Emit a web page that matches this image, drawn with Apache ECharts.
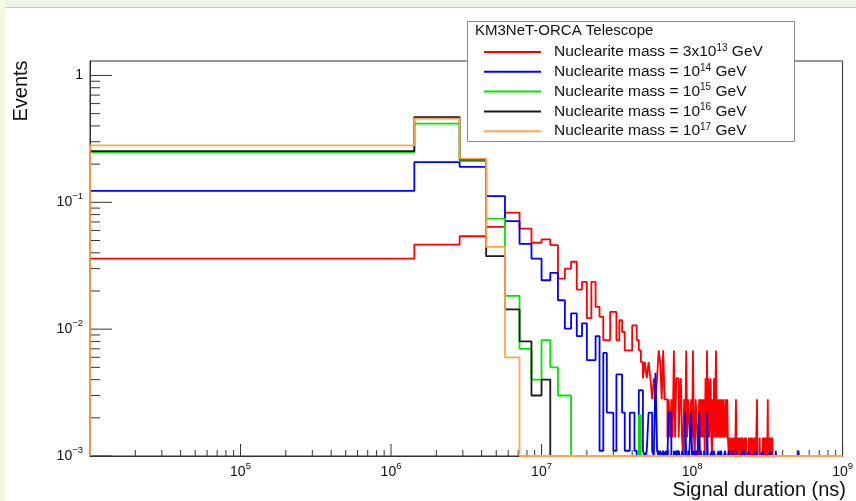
<!DOCTYPE html>
<html>
<head>
<meta charset="utf-8">
<title>KM3NeT-ORCA nuclearite signal duration</title>
<script src="https://cdn.jsdelivr.net/npm/echarts@6/dist/echarts.min.js"></script>
<style>
  html, body { margin: 0; padding: 0; background: #fff; }
  #chart { width: 856px; height: 501px; }
</style>
</head>
<body>
<div id="chart"></div>
<script>
// histogram binning: 700 equal bins from 0 to 1e9 ns
var BIN_WIDTH = 1e9 / 700;
var X_MIN = 1e4, X_MAX = 1e9;
var Y_MIN = 1e-3, Y_MAX = 1.3;

var seriesNames = [
  'Nuclearite mass = 3x10^13 GeV',
  'Nuclearite mass = 10^14 GeV',
  'Nuclearite mass = 10^15 GeV',
  'Nuclearite mass = 10^16 GeV',
  'Nuclearite mass = 10^17 GeV'
];
var xDecades = [5, 6, 7, 8, 9];     // labelled x ticks, 10^n
var yDecades = [-3, -2, -1, 0];     // labelled y ticks, 10^n

// events per bin, bin 0 first. "Tail" lists are [bin, events] for the sparse part
var red = [
  0.036, 0.0464, 0.054, 0.064, 0.083, 0.062, 0.048, 0.051, 0.046, 0.025,
  0.030, 0.034, 0.0205, 0.0236, 0.0122, 0.0236, 0.0150, 0.0125, 0.0082, 0.0082,
  0.0137, 0.0137, 0.0082, 0.0118, 0.0095, 0.0068, 0.0068, 0.0068, 0.0107, 0.0107,
  0.0082, 0.0068, 0.0055, 0.0041, 0.0055, 0.0041, 0.0055, 0.0041, 0.0028, 0.0041,
  0.0028, 0.0041, 0.0068, 0.0055, 0.0028, 0.0068, 0.0028, 0.0028, 0.0014, 0.0028,
  0.0014, 0.0028, 0.0014, 0.0068, 0.0014, 0.0041, 0.0041, 0.0014, 0.0028, 0.0041
];
var redTail = [
  [60,0.0014],[62,0.0028],[63,0.0014],[64,0.0068],[65,0.0014],[66,0.0028],[67,0.0028],[68,0.0014],
  [69,0.0028],[70,0.0014],[71,0.0068],[72,0.0014],[74,0.0028],[75,0.0028],[76,0.0014],[78,0.0028],
  [79,0.0014],[80,0.0028],[81,0.0014],[82,0.0028],[83,0.0014],[84,0.0028],[86,0.0041],[87,0.0014],
  [88,0.0068],[89,0.0014],[90,0.0041],[91,0.0014],[92,0.0014],[93,0.0041],[94,0.0014],[96,0.0028],
  [97,0.0014],[98,0.0041],[99,0.0014],[100,0.0014],[101,0.0068],[102,0.0014],[103,0.0028],[104,0.0028],
  [105,0.0014],[106,0.0028],[107,0.0014],[108,0.0014],[109,0.0028],[110,0.0014],[111,0.0028],[112,0.0014],
  [113,0.0028],[114,0.0028],[115,0.0014],[116,0.0014],[117,0.0028],[118,0.0014],[119,0.0014],[120,0.0028],
  [121,0.0014],[122,0.0014],[124,0.0014],[125,0.0014],[126,0.0014],[128,0.0014],[129,0.0014],[130,0.0014],
  [132,0.0014],[133,0.0014],[134,0.0014],[136,0.0014],[137,0.0028],[138,0.0014],[140,0.0014],[141,0.0014],
  [143,0.0014],[145,0.0014],[147,0.0014],[149,0.0014],[151,0.0014],[156,0.0014],[160,0.0014],[167,0.0014],
  [169,0.0014],[171,0.0014],[173,0.0014],[175,0.0014],[177,0.0014],[183,0.0014],[185,0.0014],[189,0.0028],
  [190,0.0014],[197,0.0014],[207,0.0014],[209,0.0014],[211,0.0014],[213,0.0014],[215,0.0014],[218,0.0014],
  [220,0.0014],[223,0.0028],[225,0.0014],[227,0.0014],[229,0.0014],[232,0.0014],[234,0.0014],[236,0.0014],
  [239,0.0014]
];

var blue = [
  0.123, 0.207, 0.190, 0.112, 0.071, 0.047, 0.036, 0.0243, 0.0278, 0.0169,
  0.0101, 0.0133, 0.0088, 0.0111, 0.0057, 0.0057, 0.0088, 0.0011, 0.0065, 0.0022,
  0.0022, 0.0011, 0.0044, 0.0044, 0.0022, 0.0011, 0.0011, 0.0022, 0.0022, 0.0011,
  0, 0.0033, 0.0033, 0.0011, 0, 0.0011, 0.0022, 0.0022, 0.0011, 0,
  0.0045, 0.0011, 0, 0.0011, 0, 0.0011
];
var blueTail = [
  [47,0.0011],[49,0.0022],[50,0.0022],[53,0.0011],[55,0.0011],[57,0.0011],[60,0.0011],[63,0.0022],
  [66,0.0011],[69,0.0022],[72,0.0011],[75,0.0011],[78,0.0022],[80,0.0011],[84,0.0011],[88,0.0022],
  [95,0.0011],[98,0.0011],[105,0.0011],[109,0.0011],[116,0.0011],[123,0.0011],[130,0.0011],[137,0.0011],
  [152,0.0011],[155,0.0011],[167,0.0011],[186,0.0011],[207,0.0011],[233,0.0011],[252,0.0011],[357,0.0011]
];

var green = [0.248, 0.417, 0.211, 0.0744, 0.0183, 0.0070, 0.0040, 0.0082, 0.0050, 0.0030, 0.0030];
var greenTail = [[31, 0.0021]];

var black = [0.253, 0.470, 0.217, 0.0376, 0.0143, 0.0080, 0.0030, 0.0040];

var orange = [0.281, 0.456, 0.221, 0.0445, 0.0060];

var colors = ['#ff0000', '#0000ff', '#00e600', '#1a1a1a', '#ffa54f'];
var FONT = '"Liberation Sans", Arial, Helvetica, sans-serif';

function toBins(head, tail) {
  var v = head.slice();
  (tail || []).forEach(function (p) {
    while (v.length <= p[0]) v.push(0);
    v[p[0]] = p[1];
  });
  return v;
}

// step outline like ROOT's "hist" draw option, empty bins sit on the frame bottom
function stepLine(values) {
  var pts = [[X_MIN, Y_MIN]];
  values.forEach(function (val, i) {
    var y = val > 0 ? val : Y_MIN;
    pts.push([Math.max(i * BIN_WIDTH, X_MIN), y], [(i + 1) * BIN_WIDTH, y]);
  });
  pts.push([values.length * BIN_WIDTH, Y_MIN], [X_MAX, Y_MIN]);
  return pts;
}

function sup(name) {
  var m = name.match(/^(.*)\^(\d+)(.*)$/);
  return '{g|}{t|' + m[1] + '}{s|' + m[2] + '}{t|' + m[3] + '}';
}

function decadeLabel(v, list) {
  var lg = Math.log10(v), e = Math.round(lg);
  if (Math.abs(lg - e) > 1e-6 || list.indexOf(e) < 0) return '';
  if (e === 0) return '{b|1}';
  return '{b|10}{s|' + (e < 0 ? '\u2212' : '') + Math.abs(e) + '}';
}

// tick marks drawn inside the frame, ROOT style
var xTicks = [], yTicks = [];
for (var n = 4; n <= 8; n++) {
  for (var k = 1; k <= 9; k++) {
    var xv = k * Math.pow(10, n);
    if (xv > X_MIN && xv <= X_MAX) xTicks.push([xv, k === 1 ? 12 : 6]);
  }
}
xTicks.push([X_MAX, 12]);
for (var m = -3; m <= 0; m++) {
  for (var j = 1; j <= 9; j++) {
    var yv = j * Math.pow(10, m);
    if (yv >= Y_MIN && yv <= Y_MAX) yTicks.push([yv, j === 1 ? 22 : 10]);
  }
}

function tickSeries(data, dir) {
  return {
    type: 'custom', silent: true, clip: false, z: 3,
    data: data,
    renderItem: function (params, api) {
      var v = api.value(0), len = api.value(1), p, q;
      if (dir === 'x') { p = api.coord([v, Y_MIN]); q = [p[0], p[1] - len]; }
      else { p = api.coord([X_MIN, v]); q = [p[0] + len, p[1]]; }
      return {
        type: 'line',
        shape: { x1: p[0], y1: p[1], x2: q[0], y2: q[1] },
        style: { stroke: '#333', lineWidth: 1 }
      };
    }
  };
}

var hists = [
  toBins(red, redTail),
  toBins(blue, blueTail),
  toBins(green, greenTail),
  toBins(black),
  toBins(orange)
];

var series = hists.map(function (vals, i) {
  return {
    name: seriesNames[i],
    type: 'line',
    data: stepLine(vals),
    showSymbol: false,
    symbol: 'none',
    z: 4,
    itemStyle: { color: colors[i] },
    lineStyle: { color: colors[i], width: 1.8 }
  };
});
series.push(tickSeries(xTicks, 'x'), tickSeries(yTicks, 'y'));

var labelRich = {
  b: { fontSize: 14, lineHeight: 22, fontFamily: FONT, color: '#111' },
  s: { fontSize: 9.5, lineHeight: 10, fontFamily: FONT, color: '#111', verticalAlign: 'top' }
};

var chart = echarts.init(document.getElementById('chart'));
chart.setOption({
  animation: false,
  backgroundColor: '#fff',
  grid: { left: 90, right: 8, top: 61, bottom: 45, show: true, borderColor: '#333', borderWidth: 1, backgroundColor: '#fff' },
  xAxis: {
    type: 'log', logBase: 10, min: X_MIN, max: X_MAX,
    axisLine: { lineStyle: { color: '#333', width: 1 } },
    axisTick: { show: false },
    splitLine: { show: false },
    axisLabel: {
      margin: 5, color: '#111', fontFamily: FONT,
      formatter: function (v) { return decadeLabel(v, xDecades); },
      rich: labelRich
    }
  },
  yAxis: {
    type: 'log', logBase: 10, min: Y_MIN, max: Y_MAX,
    axisLine: { lineStyle: { color: '#333', width: 1 } },
    axisTick: { show: false },
    splitLine: { show: false },
    axisLabel: {
      margin: 7, color: '#111', fontFamily: FONT,
      formatter: function (v) { return decadeLabel(v, yDecades); },
      rich: labelRich
    }
  },
  legend: {
    data: seriesNames,
    orient: 'vertical',
    left: 479, top: 38,
    icon: 'rect', itemWidth: 57, itemHeight: 2, itemGap: 2.8,
    selectedMode: false,
    z: 20,
    formatter: sup,
    textStyle: {
      color: '#111', fontFamily: FONT, fontSize: 15.5,
      rich: {
        g: { width: 8 },
        t: { fontSize: 15.5, lineHeight: 18, fontFamily: FONT, color: '#111' },
        s: { fontSize: 10, lineHeight: 11, fontFamily: FONT, color: '#111', verticalAlign: 'top' }
      }
    }
  },
  graphic: [
    { type: 'rect', z: -10, silent: true, shape: { x: 0, y: 0, width: 856, height: 7 }, style: { fill: '#eef4ea' } },
    { type: 'line', z: -10, silent: true, shape: { x1: 0, y1: 7.5, x2: 856, y2: 7.5 }, style: { stroke: '#c3c7bf', lineWidth: 1 } },
    { type: 'rect', z: -10, silent: true, shape: { x: 0, y: 0, width: 5, height: 501 }, style: { fill: '#f7fae3' } },
    { type: 'rect', z: 10, silent: true, shape: { x: 467.5, y: 21.5, width: 327, height: 120 }, style: { fill: '#fff', stroke: '#8a8a8a', lineWidth: 1 } },
    { type: 'text', z: 11, silent: true, x: 475, y: 31,
      style: { text: 'KM3NeT-ORCA Telescope', fontSize: 15, fontFamily: FONT, fill: '#111', verticalAlign: 'middle' } },
    { type: 'text', z: 11, silent: true, x: 21, y: 91, rotation: Math.PI / 2,
      style: { text: 'Events', fontSize: 20, fontFamily: FONT, fill: '#111', align: 'center', verticalAlign: 'middle' } },
    { type: 'text', z: 11, silent: true, x: 846, y: 490,
      style: { text: 'Signal duration (ns)', fontSize: 20, fontFamily: FONT, fill: '#111', align: 'right', verticalAlign: 'middle' } }
  ],
  series: series
});
</script>
</body>
</html>
